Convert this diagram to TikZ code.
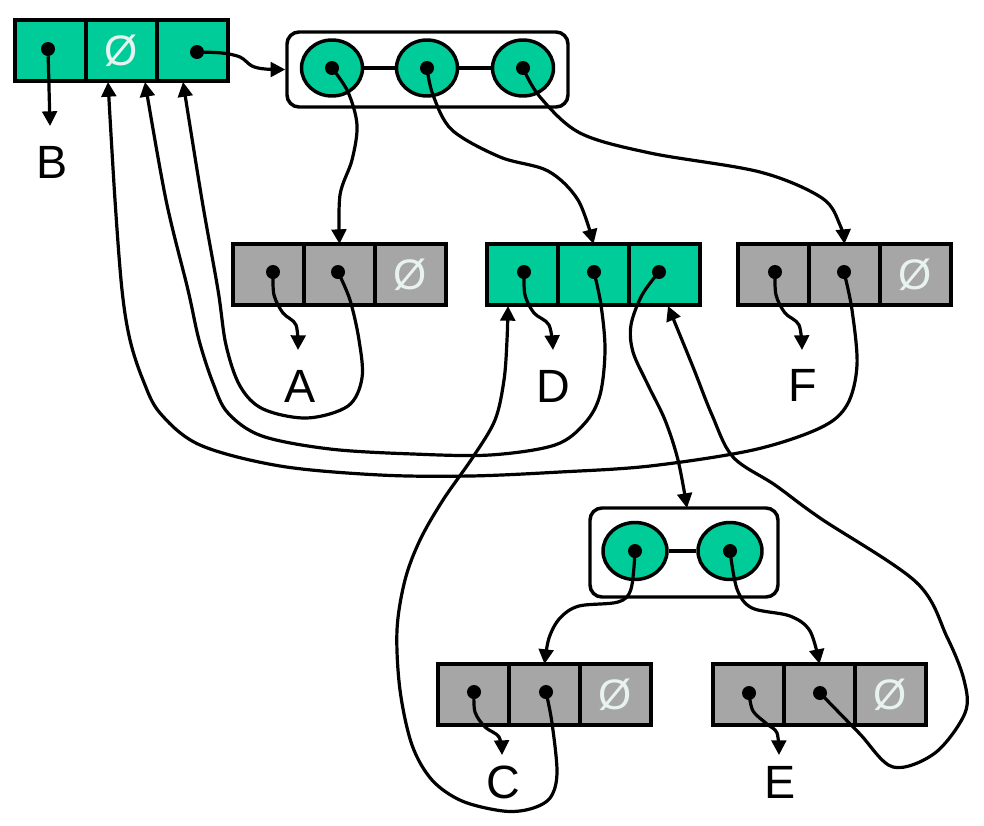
\documentclass[tikz,border=0pt]{standalone}
\usepackage{fontspec}
\setmainfont{Liberation Sans}
\usetikzlibrary{arrows.meta,shapes.geometric}
\definecolor{tgreen}{RGB}{0,204,153}
\definecolor{tgray}{RGB}{166,166,166}
\definecolor{nullc}{RGB}{232,242,238}
\begin{document}
\begin{tikzpicture}[x=0.75pt,y=-0.75pt,
  cellg/.style={draw=black,line width=2.6pt,fill=tgreen,minimum width=53.25pt,minimum height=45.75pt,inner sep=0pt,outer sep=0pt},
  cellgr/.style={cellg,fill=tgray},
  ptr/.style={circle,fill=black,inner sep=0pt,minimum size=10.5pt},
  slot/.style={ellipse,draw=black,line width=2.6pt,fill=tgreen,inner sep=0pt},
  grp/.style={draw=black,line width=2.6pt,rounded corners=9pt,inner sep=0pt},
  lbl/.style={font=\fontsize{35}{35}\selectfont,inner sep=0pt},
  nul/.style={text=nullc,font=\fontsize{32}{32}\selectfont,inner sep=0pt},
  conn/.style={line width=2.4pt,-{Triangle[length=11pt,width=11pt]}},
  sm/.style={smooth,tension=0.55},
]
\fill[white] (0,0) rectangle (984,825);
\useasboundingbox (0,0) rectangle (984,825);

% ---- B triple
\node[cellg] (B1) at (50.5,50.5) {};
\node[cellg] (B2) at (121.5,50.5) {};
\node[cellg] (B3) at (192.5,50.5) {};
\node[nul] (nB) at (B2) {Ø};
\node[ptr] (pB1) at (48,49) {};
\node[ptr] (pB3) at (197,52) {};
\node[lbl] (lB) at (52,162) {B};
\coordinate (tB) at (50,126);

% ---- top group
\node[grp,minimum width=210.75pt,minimum height=56.25pt] (R1) at (427.5,69.5) {};
\node[slot,minimum width=45.75pt,minimum height=42pt] (c1) at (332,68) {};
\node[slot,minimum width=45.75pt,minimum height=42pt] (c2) at (427,68) {};
\node[slot,minimum width=45.75pt,minimum height=42pt] (c3) at (523,68) {};
\draw[line width=2.6pt] (c1.east) -- (c2.west) (c2.east) -- (c3.west);
\node[ptr] (pc1) at (332,68) {};
\node[ptr] (pc2) at (427,68) {};
\node[ptr] (pc3) at (523,68) {};

% ---- A triple
\node[cellgr] (A1) at (268.5,274.5) {};
\node[cellgr] (A2) at (339.5,274.5) {};
\node[cellgr] (A3) at (410.5,274.5) {};
\node[nul] (nA) at (A3) {Ø};
\node[ptr] (pA1) at (273,272) {};
\node[ptr] (pA2) at (338,272) {};
\node[lbl] (lA) at (300,386) {A};
\coordinate (tA) at (298,350);

% ---- D triple
\node[cellg] (D1) at (522.5,274.5) {};
\node[cellg] (D2) at (593.5,274.5) {};
\node[cellg] (D3) at (664.5,274.5) {};
\node[ptr] (pD1) at (524,272) {};
\node[ptr] (pD2) at (594,272) {};
\node[ptr] (pD3) at (659,272) {};
\node[lbl] (lD) at (553,386) {D};
\coordinate (tD) at (553,350);
\coordinate (inD1) at (508,306);
\coordinate (inD3) at (668,306);

% ---- F triple
\node[cellgr] (F1) at (773.5,274.5) {};
\node[cellgr] (F2) at (844.5,274.5) {};
\node[cellgr] (F3) at (915.5,274.5) {};
\node[nul] (nF) at (F3) {Ø};
\node[ptr] (pF1) at (775,272) {};
\node[ptr] (pF2) at (844,272) {};
\node[lbl] (lF) at (803,385) {F};
\coordinate (tF) at (802,350);

% ---- bottom group
\node[grp,minimum width=141pt,minimum height=66.75pt] (R2) at (684,552.5) {};
\node[slot,minimum width=48pt,minimum height=42.75pt] (d1) at (635,551) {};
\node[slot,minimum width=48pt,minimum height=42.75pt] (d2) at (730,551) {};
\draw[line width=2.6pt] (d1.east) -- (d2.west);
\node[ptr] (pd1) at (635,551) {};
\node[ptr] (pd2) at (730,551) {};
\coordinate (inR2) at (687,508);

% ---- C triple
\node[cellgr] (C1) at (473.5,694.5) {};
\node[cellgr] (C2) at (544.5,694.5) {};
\node[cellgr] (C3) at (615.5,694.5) {};
\node[nul] (nC) at (C3) {Ø};
\node[ptr] (pC1) at (474,692) {};
\node[ptr] (pC2) at (546,692) {};
\node[lbl] (lC) at (503,782) {C};
\coordinate (tC) at (502,755);

% ---- E triple
\node[cellgr] (E1) at (748.5,694.5) {};
\node[cellgr] (E2) at (819.5,694.5) {};
\node[cellgr] (E3) at (890.5,694.5) {};
\node[nul] (nE) at (E3) {Ø};
\node[ptr] (pE1) at (749,693) {};
\node[ptr] (pE2) at (820,693) {};
\node[lbl] (lE) at (780,782) {E};
\coordinate (tE) at (779,755);

% ---- targets in B
\coordinate (inB1) at (108,82);
\coordinate (inB2) at (145,82);
\coordinate (inB3) at (183,82);

% ---- connectors
\draw[conn] (pB1) -- (tB);
\draw[conn] plot[sm] coordinates {(pB3) (222,53) (240,57) (252,66) (265,69) (R1.west)};
\draw[conn] plot[sm] coordinates {(pc1) (348,92) (357,125) (352,160) (340,195) (A2.north)};
\draw[conn] plot[sm] coordinates {(pc2) (433,95) (452,130) (500,157) (548,171) (578,200) (D2.north)};
\draw[conn] plot[sm] coordinates {(pc3) (540,97) (580,133) (650,153) (760,172) (822,198) (840,225) (F2.north)};

\draw[conn] plot[sm] coordinates {(pA1) (274,295) (283,313) (296,325) (tA)};
\draw[conn] plot[sm] coordinates {(pD1) (525,295) (534,313) (549,325) (tD)};
\draw[conn] plot[sm] coordinates {(pF1) (776,295) (785,313) (799,325) (tF)};
\draw[conn] plot[sm] coordinates {(pC1) (475,712) (485,727) (499,737) (tC)};
\draw[conn] plot[sm] coordinates {(pE1) (753,711) (767,724) (777,733) (tE)};

\draw[conn] plot[sm] coordinates {(pA2) (350,300) (359,340) (362,378) (348,406) (307,418) (263,409) (240,386) (226,345) (218,290) (202,200) (inB3)};
\draw[conn] plot[sm] coordinates {(pD2) (601,305) (605,350) (600,395) (585,423) (555,445) (490,455) (413,454) (330,449) (262,436) (228,413) (213,383) (199,340) (188,290) (166,200) (inB2)};
\draw[conn] plot[sm] coordinates {(pF2) (852,310) (857,365) (847,405) (820,428) (753,450) (650,466) (560,472) (470,476) (380,475) (280,466) (200,445) (160,413) (143,380) (130,340) (122,290) (115,200) (inB1)};

\draw[conn] plot[sm] coordinates {(pD3) (642,295) (631,325) (633,352) (648,385) (665,420) (678,460) (inR2)};
\draw[conn] plot[sm] coordinates {(pd1) (631,589) (618,602) (579,606) (560,618) (549,638) (C2.north)};
\draw[conn] plot[sm] coordinates {(pd2) (737,589) (752,608) (790,616) (810,631) (E2.north)};

\draw[conn] plot[sm] coordinates {(pC2) (552,723) (557,773) (550,798) (530,809) (503,811) (462,801) (432,780) (412,745) (400,690) (397,630) (405,580) (420,540) (443,500) (473,457) (495,420) (504,380) (507,340) (inD1)};
\draw[conn] plot[sm] coordinates {(pE2) (859,733) (893,767) (935,753) (965,713) (964,680) (947,637) (916,582) (820,518) (775,485) (733,457) (712,415) (693,367) (inD3)};
\end{tikzpicture}
\end{document}
